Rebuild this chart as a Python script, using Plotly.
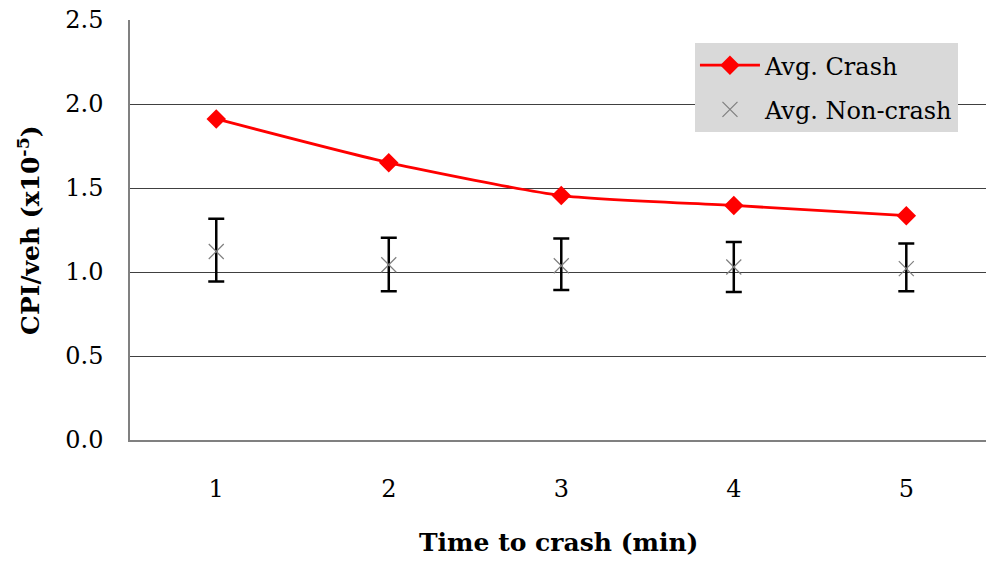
import plotly.graph_objects as go

categories = ["1", "2", "3", "4", "5"]
crash_avg = [1.911, 1.651, 1.455, 1.396, 1.335]
noncrash_avg = [1.122, 1.043, 1.037, 1.030, 1.020]
noncrash_upper = [1.317, 1.204, 1.200, 1.178, 1.170]
noncrash_lower = [0.944, 0.885, 0.893, 0.881, 0.885]
y_ticks = [0.0, 0.5, 1.0, 1.5, 2.0, 2.5]

err_plus = [u - m for u, m in zip(noncrash_upper, noncrash_avg)]
err_minus = [m - l for m, l in zip(noncrash_avg, noncrash_lower)]

FONT = "DejaVu Serif"

fig = go.Figure()
fig.add_trace(go.Scatter(
    x=categories, y=crash_avg, name="Avg. Crash", mode="lines+markers",
    legendgroup="a",
    line=dict(color="#ff0000", width=2.8, shape="spline", smoothing=0.6),
    marker=dict(symbol="diamond", size=15, color="#ff0000"),
))
fig.add_trace(go.Scatter(
    x=categories, y=noncrash_avg, name="Avg. Non-crash", mode="markers",
    legendgroup="b",
    marker=dict(symbol="x-thin-open", size=15, color="#7f7f7f",
                line=dict(color="#7f7f7f", width=1.2)),
    error_y=dict(type="data", symmetric=False, array=err_plus, arrayminus=err_minus,
                 color="black", thickness=2.5, width=8),
))

fig.update_layout(
    width=986, height=561,
    margin=dict(l=130, r=0, t=20, b=121, autoexpand=False),
    paper_bgcolor="white", plot_bgcolor="white",
    font=dict(family=FONT, size=24, color="black"),
    showlegend=True,
    legend=dict(x=0.66, y=0.945, xanchor="left", yanchor="top",
                bgcolor="#d9d9d9", font=dict(family=FONT, size=24),
                tracegroupgap=10, itemwidth=60, traceorder="grouped"),
    annotations=[
        dict(text="<b>Time to crash (min)</b>", xref="paper", yref="paper",
             x=0.5, y=-0.245, xanchor="center", yanchor="middle",
             showarrow=False, font=dict(family=FONT, size=25)),
        dict(text="<b>CPI/veh (x10<sup>-5</sup>)</b>", xref="paper", yref="paper",
             x=-0.118, y=0.5, xanchor="center", yanchor="middle", textangle=-90,
             showarrow=False, font=dict(family=FONT, size=25)),
    ],
)
fig.update_xaxes(
    type="category", range=[-0.5, 4.462], automargin=False,
    showgrid=False, showline=True, linecolor="#808080", linewidth=1.5,
    ticks="", ticklabelstandoff=26,
)
fig.update_yaxes(
    range=[0, 2.5], tickvals=y_ticks, ticktext=[f"{v:.1f}" for v in y_ticks],
    automargin=False,
    showgrid=True, gridcolor="#404040", gridwidth=1,
    showline=True, linecolor="#808080", linewidth=1.5,
    zeroline=False, ticks="", ticklabelstandoff=20,
)

fig.write_html(
    "out.html",
    config={"displayModeBar": False},
    post_script="document.body.style.margin='0';document.body.style.overflow='hidden';",
)
